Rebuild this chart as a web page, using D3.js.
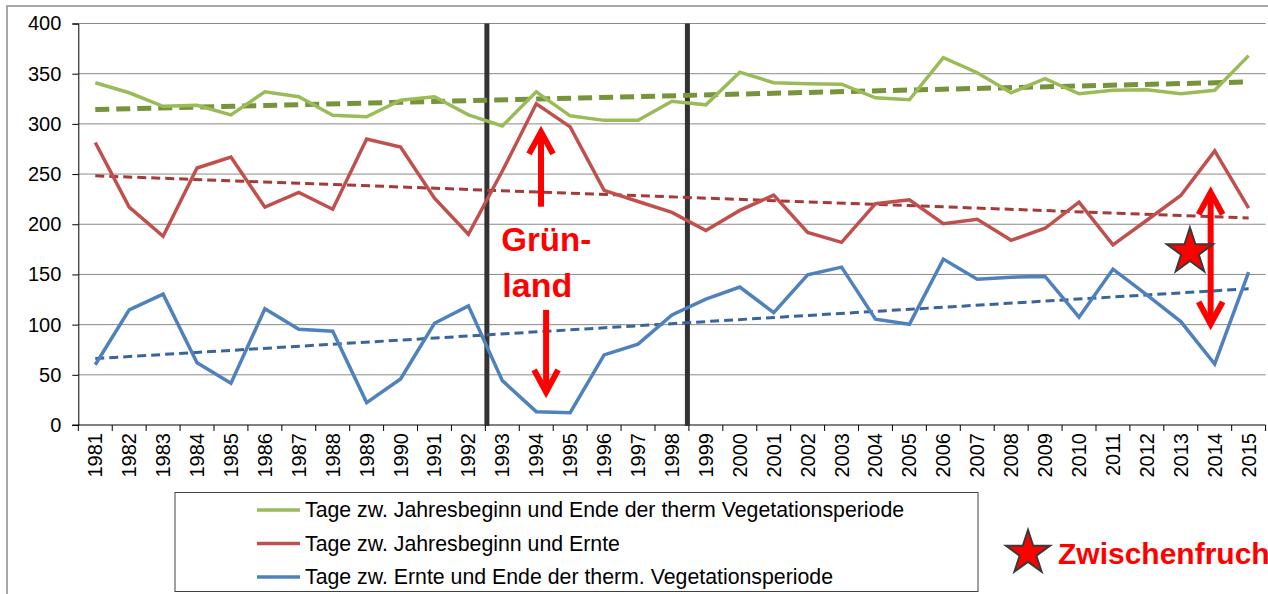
<!DOCTYPE html>
<html>
<head>
<meta charset="utf-8">
<script src="https://cdn.jsdelivr.net/npm/d3@7"></script>
<style>
body{margin:0;background:#fff;}
svg{display:block;font-family:"Liberation Sans",Arial,sans-serif;}
</style>
</head>
<body>
<svg id="chart" width="1268" height="594"></svg>
<script>
// categories
var years=['1981','1982','1983','1984','1985','1986','1987','1988','1989','1990','1991','1992',
 '1993','1994','1995','1996','1997','1998','1999','2000','2001','2002','2003','2004','2005',
 '2006','2007','2008','2009','2010','2011','2012','2013','2014','2015'];
// Tage zw. Jahresbeginn und Ende der therm Vegetationsperiode
var vegEnd=[341,331,317.5,318.5,309,332,327,308.5,307,323.5,327,309,
 298,332,308,303.5,303.5,322.5,
 319,351.5,341,340,339.5,326,324,366,351,331,345,330,333.5,334,330,333.5,368];
// Tage zw. Jahresbeginn und Ernte
var harvest=[281.5,217,188,256,267,217,231.7,215,285,277,226,190,
 253,320,297,233.7,222.7,211.8,
 193.8,213.8,229,191.8,182,220.5,224.4,200.5,205,184,196,222,179.5,204,228.7,273,216];
// Tage zw. Ernte und Ende der therm. Vegetationsperiode
var afterHarvest=[60,114.7,130.4,62,41.6,115.7,95.4,93.4,22.3,45.9,101.4,118.7,
 44.2,13.3,12.3,69.8,80.5,109.7,
 125.4,137.4,112,149.6,157.3,105.4,100.4,165.3,145.3,147.3,148,107.4,155.3,129.7,103,60.8,152.3];
var yTicks=[0,50,100,150,200,250,300,350,400];
var breakYears=['1993','1999'];
var legendLabels=['Tage zw. Jahresbeginn und Ende der therm Vegetationsperiode',
 'Tage zw. Jahresbeginn und Ernte',
 'Tage zw. Ernte und Ende der therm. Vegetationsperiode'];

var series=[
 {name:legendLabels[0],values:vegEnd,color:'#9bbb59',trendColor:'#77933c',tw:5,dash:'14,7'},
 {name:legendLabels[1],values:harvest,color:'#c0504d',trendColor:'#a23b39',tw:3,dash:'9,5'},
 {name:legendLabels[2],values:afterHarvest,color:'#4f81bd',trendColor:'#3a659a',tw:3,dash:'9,5'}
];

var svg=d3.select('#chart');
var plotL=78.3,plotR=1265.6,plotT=23.5,plotB=425;

var x=d3.scaleBand().domain(years).range([plotL,plotR]);
var xc=function(yr){return x(yr)+x.bandwidth()/2;};
// continuous year scale for annotations
var xLin=d3.scaleLinear().domain([1980.5,2015.5]).range([plotL,plotR]);
var y=d3.scaleLinear().domain([0,400]).range([plotB,plotT]);

// outer frame
svg.append('rect').attr('x',7).attr('y',6).attr('width',1300).attr('height',700)
 .attr('fill','none').attr('stroke','#8c8c8c').attr('stroke-width',1.5);

// grid
svg.append('g').selectAll('line').data(yTicks.filter(function(d){return d>0;})).enter()
 .append('line').attr('x1',plotL).attr('x2',plotR)
 .attr('y1',function(d){return y(d);}).attr('y2',function(d){return y(d);})
 .attr('stroke','#8a8a8a').attr('stroke-width',1);

// y axis
var gy=svg.append('g').attr('transform','translate('+plotL+',0)')
 .call(d3.axisLeft(y).tickValues(yTicks).tickSize(6).tickPadding(11));
gy.selectAll('text').attr('font-size',20).attr('fill','#000').attr('font-family','"Liberation Sans",Arial,sans-serif');
gy.selectAll('line,path').attr('stroke','#000');

// x axis labels
var gx=svg.append('g').attr('transform','translate(0,'+plotB+')')
 .call(d3.axisBottom(x).tickSize(0));
gx.select('path').remove();
gx.selectAll('text').attr('font-size',20).attr('fill','#000')
 .attr('font-family','"Liberation Sans",Arial,sans-serif')
 .attr('transform','rotate(-90)').attr('text-anchor','end')
 .attr('x',-8).attr('y',0).attr('dy','.35em');
// x axis line + boundary ticks
svg.append('line').attr('x1',plotL-6).attr('x2',plotR).attr('y1',plotB).attr('y2',plotB)
 .attr('stroke','#000');
svg.append('g').selectAll('line').data(years.concat(['end'])).enter().append('line')
 .attr('x1',function(d){return d==='end'?plotR:x(d);})
 .attr('x2',function(d){return d==='end'?plotR:x(d);})
 .attr('y1',plotB).attr('y2',plotB+6).attr('stroke','#000');

// period break lines
svg.append('g').selectAll('line').data(breakYears).enter().append('line')
 .attr('x1',function(d,i){return x(d)+(i?-1.5:1.5);}).attr('x2',function(d,i){return x(d)+(i?-1.5:1.5);})
 .attr('y1',y(400)).attr('y2',y(0)+1)
 .attr('stroke','#333').attr('stroke-width',5);

// trend lines (least squares)
function trend(vals){
 var n=vals.length,mx=(n-1)/2,my=d3.mean(vals),sxy=0,sxx=0;
 vals.forEach(function(v,i){sxy+=(i-mx)*(v-my);sxx+=(i-mx)*(i-mx);});
 var b=sxy/sxx,a=my-b*mx;
 return [[0,a],[n-1,a+b*(n-1)]];
}
series.forEach(function(s){
 var t=trend(s.values);
 svg.append('line')
  .attr('x1',xc(years[t[0][0]])).attr('y1',y(t[0][1]))
  .attr('x2',xc(years[t[1][0]])).attr('y2',y(t[1][1]))
  .attr('stroke',s.trendColor).attr('stroke-width',s.tw).attr('stroke-dasharray',s.dash);
});

// series lines
var line=d3.line().x(function(d,i){return xc(years[i]);}).y(function(d){return y(d);});
series.forEach(function(s){
 svg.append('path').datum(s.values).attr('d',line)
  .attr('fill','none').attr('stroke',s.color).attr('stroke-width',3.5)
  .attr('stroke-linejoin','miter');
});

// annotations
var red='#ff0000';
function arrow(yr,v0,v1,twoHeads){
 var g=svg.append('g').attr('stroke',red).attr('stroke-width',6).attr('fill','none');
 var px=xLin(yr),p0=y(v0),p1=y(v1);
 g.append('line').attr('x1',px).attr('x2',px).attr('y1',p0).attr('y2',p1);
 function head(tipY,dir){
  g.append('path').attr('d','M'+(px-12)+','+(tipY+dir*22)+'L'+px+','+tipY+'L'+(px+12)+','+(tipY+dir*22));
 }
 head(p1,p1<p0?1:-1);
 if(twoHeads)head(p0,p0<p1?1:-1);
}
arrow(1994.14,217.5,292);
arrow(1994.29,114.7,33);
arrow(2013.88,100.7,231.7,true);

svg.append('text').attr('x',xLin(1992.97)).attr('y',y(172.9)).text('Grün-')
 .attr('fill',red).attr('font-size',33).attr('font-weight','bold');
svg.append('text').attr('x',xLin(1993.0)).attr('y',y(128)).text('land')
 .attr('fill',red).attr('font-size',34).attr('font-weight','bold');

var star=d3.symbol().type(d3.symbolStar);
svg.append('path').attr('d',star.size(663)())
 .attr('transform','translate('+xLin(2013.27)+','+y(172.6)+')')
 .attr('fill',red).attr('stroke','#3a3a3a').attr('stroke-width',2);

// legend
var lg=svg.append('g');
lg.append('rect').attr('x',175).attr('y',492.5).attr('width',803).attr('height',99)
 .attr('fill','#fff').attr('stroke','#404040').attr('stroke-width',1);
series.forEach(function(s,i){
 var ly=510+i*33.5;
 lg.append('line').attr('x1',257).attr('x2',300).attr('y1',ly).attr('y2',ly)
  .attr('stroke',s.color).attr('stroke-width',3.5);
 lg.append('text').attr('x',305).attr('y',ly).attr('dy','.35em').text(s.name)
  .attr('font-size',21.3).attr('fill','#000');
});

svg.append('path').attr('d',star.size(600)())
 .attr('transform','translate(1028,553)')
 .attr('fill',red).attr('stroke','#3a3a3a').attr('stroke-width',2);
svg.append('text').attr('x',1058).attr('y',564).text('Zwischenfrucht')
 .attr('fill',red).attr('font-size',30).attr('font-weight','bold');
</script>
</body>
</html>
